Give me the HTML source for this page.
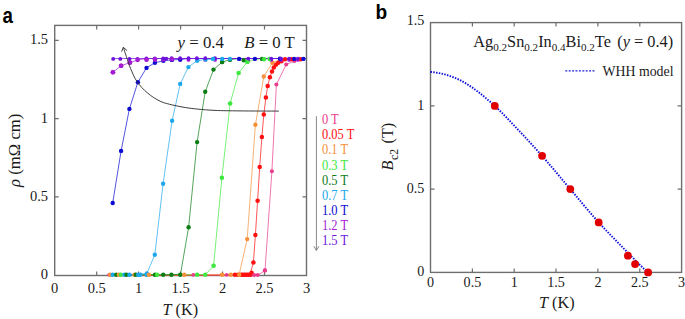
<!DOCTYPE html><html><head><meta charset="utf-8"><style>html,body{margin:0;padding:0;background:#fff;}svg{display:block;}</style></head><body>
<svg width="685" height="319" viewBox="0 0 685 319">
<rect width="685" height="319" fill="#fff"/>
<text transform="translate(2.6,23.0) scale(0.84,1)" font-family="'Liberation Sans', sans-serif" font-weight="bold" font-size="22.3">a</text>
<rect x="54.7" y="25.4" width="251.8" height="250.1" fill="none" stroke="#6e6e6e" stroke-width="1.4"/>
<path d="M96.7,275.5v-4M96.7,25.4v4M138.6,275.5v-4M138.6,25.4v4M180.6,275.5v-4M180.6,25.4v4M222.6,275.5v-4M222.6,25.4v4M264.5,275.5v-4M264.5,25.4v4M54.7,196.9h4M306.5,196.9h-4M54.7,118.7h4M306.5,118.7h-4M54.7,40.4h4M306.5,40.4h-4" stroke="#6e6e6e" stroke-width="1.2" fill="none"/>
<g font-family="'Liberation Serif', serif" font-size="14.5" fill="#1a1a1a" text-anchor="middle">
<text x="54.7" y="292.7">0</text>
<text x="96.7" y="292.7">0.5</text>
<text x="138.6" y="292.7">1</text>
<text x="180.6" y="292.7">1.5</text>
<text x="222.6" y="292.7">2</text>
<text x="264.5" y="292.7">2.5</text>
<text x="306.5" y="292.7">3</text>
</g>
<g font-family="'Liberation Serif', serif" font-size="14.5" fill="#1a1a1a" text-anchor="end">
<text x="48" y="279.1">0</text>
<text x="48" y="200.8">0.5</text>
<text x="48" y="122.6">1</text>
<text x="48" y="44.3">1.5</text>
</g>
<text x="162.5" y="314.5" font-family="'Liberation Serif', serif" font-size="16.2" fill="#1a1a1a"><tspan font-style="italic">T</tspan> (K)</text>
<text transform="translate(19.8,186.9) rotate(-90)" font-family="'Liberation Serif', serif" font-size="16.7" fill="#1a1a1a"><tspan font-style="italic">ρ</tspan> (mΩ cm)</text>
<text x="177.6" y="47.6" font-family="'Liberation Serif', serif" font-size="16.8" fill="#1a1a1a"><tspan font-style="italic">y</tspan> = 0.4</text>
<text x="244.2" y="47.6" font-family="'Liberation Serif', serif" font-size="16.8" fill="#1a1a1a"><tspan font-style="italic">B</tspan> = 0 T</text>
<polyline points="109.0,275.4 117.4,275.4 125.8,275.4 134.2,275.4 142.6,275.4 150.9,275.4 159.3,275.4 167.7,275.4 176.1,275.4 184.5,275.4 192.9,275.4 201.3,275.4 209.7,275.4 218.1,275.4 226.5,275.4 234.8,275.4 243.2,275.4 254.8,275.2 257.9,275.1 265.0,270.5 271.9,171.3 276.4,84.5 286.2,64.5 294.4,61.0 302.0,59.6" fill="none" stroke="#ea3a8c" stroke-width="0.7"/>
<polyline points="109.0,275.4 160.0,275.4 234.9,274.8 240.0,274.8 242.5,274.8 245.0,274.8 247.5,274.8 250.0,274.8 253.4,262.6 255.4,235.0 257.6,200.8 259.7,167.1 261.9,136.9 263.8,114.6 265.9,97.4 267.7,85.9 269.9,77.3 272.0,71.5 273.8,67.5 275.9,64.7 278.2,62.8 281.4,61.3 284.5,59.9 288.0,59.3 292.0,58.5 295.5,58.5 299.0,58.5 302.5,58.5 306.0,58.5" fill="none" stroke="#ff1010" stroke-width="0.7"/>
<polyline points="108.5,274.8 116.9,274.8 125.3,274.8 133.7,274.8 142.1,274.8 150.4,274.8 158.8,274.8 167.2,274.8 175.6,274.8 184.0,274.8 192.4,274.8 200.8,274.8 209.2,274.8 217.6,274.8 226.0,274.8 234.3,274.8 239.1,274.8 247.2,239.1 255.4,124.8 263.8,76.5 272.4,62.8 280.5,59.5 289.0,58.5 297.4,58.5 305.8,58.5" fill="none" stroke="#f5913a" stroke-width="0.7"/>
<polyline points="111.0,274.8 119.4,274.8 127.8,274.8 136.2,274.8 144.6,274.8 152.9,274.8 161.3,274.8 169.7,274.8 178.1,274.8 186.5,274.8 194.9,274.8 205.4,274.6 213.6,265.8 221.9,177.8 230.1,103.5 238.6,73.0 247.4,61.8 255.6,59.4 263.5,58.5 271.9,58.5 280.3,58.5 288.7,58.5 297.1,58.5 305.4,58.5" fill="none" stroke="#3ee83e" stroke-width="0.7"/>
<polyline points="110.5,274.8 118.9,274.8 127.3,274.8 135.7,274.8 144.1,274.8 152.4,274.8 160.8,274.8 169.2,274.8 180.5,274.2 188.6,227.3 197.1,142.1 205.2,91.8 213.5,69.6 222.1,62.1 230.0,59.7 238.6,58.5 247.0,58.5 255.4,58.5 263.8,58.5 272.2,58.5 280.5,58.5 288.9,58.5 297.3,58.5 305.7,58.5" fill="none" stroke="#0c7c14" stroke-width="0.7"/>
<polyline points="109.5,274.8 117.9,274.8 126.3,274.8 134.7,274.8 146.9,273.4 154.8,254.8 163.1,183.8 172.1,120.8 180.2,83.9 188.4,67.1 197.2,60.5 205.6,59.5 214.0,59.2 222.0,58.5 230.4,58.5 238.8,58.5 247.2,58.5 255.6,58.5 263.9,58.5 272.3,58.5 280.7,58.5 289.1,58.5 297.5,58.5 305.9,58.5" fill="none" stroke="#1ea8ec" stroke-width="0.7"/>
<polyline points="112.7,203.0 121.1,150.9 129.4,108.9 137.9,82.2 146.5,67.9 154.9,62.7 163.4,60.8 171.9,59.9 180.3,59.4 188.7,58.5 197.1,58.5 205.5,58.5 213.9,58.5 222.3,58.5 230.6,58.5 239.0,58.5 247.4,58.5 255.8,58.5 264.2,58.5 272.6,58.5 281.0,58.5 289.4,58.5 297.8,58.5" fill="none" stroke="#0a0ad0" stroke-width="0.7"/>
<polyline points="112.9,72.3 121.1,65.7 129.9,62.6 137.6,60.0 146.4,58.5 154.8,58.5 163.2,58.5 171.6,58.5 180.0,58.5 188.3,58.5 196.7,58.5 205.1,58.5 213.5,58.5 221.9,58.5 230.3,58.5 238.7,58.5 247.1,58.5 255.5,58.5 263.9,58.5 272.2,58.5 280.6,58.5 289.0,58.5 297.4,58.5 305.8,58.5" fill="none" stroke="#a41cd4" stroke-width="0.7"/>
<polyline points="113.2,58.5 121.6,58.5 130.0,58.5 138.4,58.5 146.8,58.5 155.1,58.5 163.5,58.5 171.9,58.5 180.3,58.5 188.7,58.5 197.1,58.5 205.5,58.5 213.9,58.5 222.3,58.5 230.7,58.5 239.0,58.5 247.4,58.5 255.8,58.5 264.2,58.5 272.6,58.5 281.0,58.5 289.4,58.5 297.8,58.5" fill="none" stroke="#6c12dc" stroke-width="0.7"/>
<g fill="#ea3a8c"><circle cx="265.0" cy="270.5" r="2.0"/><circle cx="271.9" cy="171.3" r="2.0"/><circle cx="276.4" cy="84.5" r="2.0"/><circle cx="286.2" cy="64.5" r="2.0"/><circle cx="294.4" cy="61.0" r="2.0"/></g>
<g fill="#ff1010"><circle cx="253.4" cy="262.6" r="2.25"/><circle cx="255.4" cy="235.0" r="2.25"/><circle cx="257.6" cy="200.8" r="2.25"/><circle cx="259.7" cy="167.1" r="2.25"/><circle cx="261.9" cy="136.9" r="2.25"/><circle cx="263.8" cy="114.6" r="2.25"/><circle cx="265.9" cy="97.4" r="2.25"/><circle cx="267.7" cy="85.9" r="2.25"/><circle cx="269.9" cy="77.3" r="2.25"/><circle cx="272.0" cy="71.5" r="2.25"/><circle cx="273.8" cy="67.5" r="2.25"/><circle cx="275.9" cy="64.7" r="2.25"/><circle cx="278.2" cy="62.8" r="2.25"/><circle cx="281.4" cy="61.3" r="2.25"/></g>
<g fill="#f5913a"><circle cx="247.2" cy="239.1" r="2.2"/><circle cx="255.4" cy="124.8" r="2.2"/><circle cx="263.8" cy="76.5" r="2.2"/><circle cx="272.4" cy="62.8" r="2.2"/></g>
<g fill="#3ee83e"><circle cx="213.6" cy="265.8" r="2.3"/><circle cx="221.9" cy="177.8" r="2.3"/><circle cx="230.1" cy="103.5" r="2.3"/><circle cx="238.6" cy="73.0" r="2.3"/><circle cx="247.4" cy="61.8" r="2.3"/></g>
<g fill="#0c7c14"><circle cx="188.6" cy="227.3" r="2.2"/><circle cx="197.1" cy="142.1" r="2.2"/><circle cx="205.2" cy="91.8" r="2.2"/><circle cx="213.5" cy="69.6" r="2.2"/><circle cx="222.1" cy="62.1" r="2.2"/></g>
<g fill="#1ea8ec"><circle cx="146.9" cy="273.4" r="2.2"/><circle cx="154.8" cy="254.8" r="2.2"/><circle cx="163.1" cy="183.8" r="2.2"/><circle cx="172.1" cy="120.8" r="2.2"/><circle cx="180.2" cy="83.9" r="2.2"/><circle cx="188.4" cy="67.1" r="2.2"/><circle cx="197.2" cy="60.5" r="2.2"/></g>
<g fill="#0a0ad0"><circle cx="112.7" cy="203.0" r="2.2"/><circle cx="121.1" cy="150.9" r="2.2"/><circle cx="129.4" cy="108.9" r="2.2"/><circle cx="137.9" cy="82.2" r="2.2"/><circle cx="146.5" cy="67.9" r="2.2"/><circle cx="154.9" cy="62.7" r="2.2"/><circle cx="163.4" cy="60.8" r="2.2"/></g>
<g fill="#a41cd4"><circle cx="112.9" cy="72.3" r="2.3"/><circle cx="121.1" cy="65.7" r="2.3"/><circle cx="129.9" cy="62.6" r="2.3"/></g>
<g>
<circle cx="109.1" cy="274.8" r="1.9" fill="#ea3a8c"/>
<circle cx="110.1" cy="274.8" r="2.2" fill="#f5913a"/>
<circle cx="112.7" cy="274.8" r="2.2" fill="#1ea8ec"/>
<circle cx="116.2" cy="274.8" r="2.2" fill="#0c7c14"/>
<circle cx="118.8" cy="274.8" r="2.2" fill="#f5913a"/>
<circle cx="120.8" cy="274.8" r="2.2" fill="#3ee83e"/>
<circle cx="124.4" cy="274.8" r="2.2" fill="#1ea8ec"/>
<circle cx="126.5" cy="274.8" r="2.2" fill="#0c7c14"/>
<circle cx="129.5" cy="274.8" r="2.2" fill="#1ea8ec"/>
<circle cx="134.6" cy="274.8" r="2.2" fill="#f5913a"/>
<circle cx="135.8" cy="274.8" r="2.2" fill="#0c7c14"/>
<circle cx="138.2" cy="274.8" r="2.2" fill="#1ea8ec"/>
<circle cx="140.4" cy="274.8" r="2.2" fill="#1ea8ec"/>
<circle cx="146.6" cy="274.8" r="2.2" fill="#1ea8ec"/>
<circle cx="148.9" cy="274.8" r="2.2" fill="#f5913a"/>
<circle cx="155.0" cy="274.8" r="2.2" fill="#0c7c14"/>
<circle cx="157.1" cy="274.8" r="2.2" fill="#3ee83e"/>
<circle cx="163.2" cy="274.8" r="2.2" fill="#0c7c14"/>
<circle cx="171.4" cy="274.8" r="2.2" fill="#0c7c14"/>
<circle cx="180.3" cy="274.8" r="2.2" fill="#0c7c14"/>
<circle cx="184.3" cy="274.8" r="2.2" fill="#f5913a"/>
<circle cx="193.3" cy="274.8" r="1.9" fill="#ea3a8c"/>
<circle cx="197.1" cy="274.8" r="2.2" fill="#3ee83e"/>
<circle cx="205.3" cy="274.8" r="2.2" fill="#3ee83e"/>
<circle cx="222.1" cy="274.8" r="2.2" fill="#f5913a"/>
<circle cx="226.7" cy="274.8" r="1.9" fill="#ea3a8c"/>
<circle cx="230.8" cy="274.8" r="2.2" fill="#f5913a"/>
<circle cx="234.9" cy="274.8" r="2.2" fill="#ff1010"/>
<circle cx="238.0" cy="274.8" r="2.2" fill="#ff1010"/>
<circle cx="241.0" cy="274.8" r="2.2" fill="#ff1010"/>
<circle cx="242.6" cy="274.8" r="2.2" fill="#ff1010"/>
<circle cx="244.2" cy="274.8" r="2.2" fill="#ff1010"/>
<circle cx="245.8" cy="274.8" r="2.2" fill="#ff1010"/>
<circle cx="247.4" cy="274.8" r="2.2" fill="#ff1010"/>
<circle cx="249.0" cy="274.8" r="2.2" fill="#ff1010"/>
<circle cx="250.6" cy="274.8" r="2.2" fill="#ff1010"/>
<circle cx="239.2" cy="274.8" r="2.2" fill="#f5913a"/>
<circle cx="251.6" cy="272.6" r="2.2" fill="#ff1010"/>
<circle cx="254.1" cy="275.0" r="2.0" fill="#ea3a8c"/>
<circle cx="257.7" cy="275.0" r="2.0" fill="#ea3a8c"/>
<circle cx="264.9" cy="270.4" r="2.1" fill="#ea3a8c"/>
</g>
<g>
<circle cx="146.4" cy="59.9" r="1.95" fill="#a41cd4"/>
<circle cx="154.8" cy="59.9" r="1.95" fill="#a41cd4"/>
<circle cx="163.2" cy="59.9" r="1.95" fill="#a41cd4"/>
<circle cx="171.6" cy="59.9" r="1.95" fill="#a41cd4"/>
<circle cx="180.1" cy="59.9" r="1.95" fill="#a41cd4"/>
<circle cx="188.5" cy="59.9" r="1.95" fill="#a41cd4"/>
<circle cx="196.9" cy="59.9" r="1.95" fill="#a41cd4"/>
<circle cx="205.3" cy="59.9" r="1.95" fill="#a41cd4"/>
<circle cx="215.0" cy="59.9" r="1.95" fill="#a41cd4"/>
<circle cx="248.3" cy="59.9" r="1.95" fill="#a41cd4"/>
<circle cx="271.3" cy="59.9" r="1.95" fill="#a41cd4"/>
<circle cx="281.0" cy="59.9" r="1.95" fill="#a41cd4"/>
<circle cx="289.1" cy="59.9" r="1.95" fill="#a41cd4"/>
<circle cx="297.8" cy="59.9" r="1.95" fill="#a41cd4"/>
<circle cx="285.0" cy="59.2" r="2.2" fill="#ff1010"/>
<circle cx="291.6" cy="59.2" r="2.2" fill="#ff1010"/>
<circle cx="300.5" cy="59.2" r="2.2" fill="#ff1010"/>
<circle cx="171.9" cy="59.9" r="2.2" fill="#0a0ad0"/>
<circle cx="180.3" cy="59.5" r="2.2" fill="#0a0ad0"/>
<circle cx="197.2" cy="60.4" r="2.2" fill="#1ea8ec"/>
<circle cx="205.6" cy="59.6" r="2.2" fill="#1ea8ec"/>
<circle cx="243.7" cy="60.2" r="2.2" fill="#0c7c14"/>
<circle cx="247.4" cy="61.8" r="2.2" fill="#3ee83e"/>
<circle cx="222.1" cy="62.1" r="2.2" fill="#0c7c14"/>
<circle cx="230.0" cy="59.9" r="2.2" fill="#0c7c14"/>
<circle cx="113.2" cy="58.9" r="1.95" fill="#6c12dc"/>
<circle cx="120.3" cy="58.9" r="1.95" fill="#6c12dc"/>
<circle cx="129.5" cy="58.9" r="1.95" fill="#6c12dc"/>
<circle cx="137.5" cy="58.9" r="1.95" fill="#6c12dc"/>
<circle cx="146.4" cy="58.4" r="1.95" fill="#6c12dc"/>
<circle cx="154.8" cy="58.4" r="1.95" fill="#6c12dc"/>
<circle cx="163.2" cy="58.4" r="1.95" fill="#6c12dc"/>
<circle cx="166.3" cy="58.6" r="1.95" fill="#6c12dc"/>
<circle cx="171.6" cy="58.3" r="1.95" fill="#6c12dc"/>
<circle cx="180.1" cy="58.3" r="1.95" fill="#6c12dc"/>
<circle cx="188.5" cy="58.3" r="1.95" fill="#6c12dc"/>
<circle cx="196.9" cy="58.3" r="1.95" fill="#6c12dc"/>
<circle cx="205.3" cy="58.3" r="1.95" fill="#6c12dc"/>
<circle cx="215.0" cy="58.3" r="1.95" fill="#6c12dc"/>
<circle cx="213.0" cy="58.9" r="2.2" fill="#1ea8ec"/>
<circle cx="222.2" cy="58.9" r="2.2" fill="#1ea8ec"/>
<circle cx="229.9" cy="58.9" r="2.2" fill="#1ea8ec"/>
<circle cx="239.1" cy="58.9" r="2.2" fill="#0a0ad0"/>
<circle cx="248.3" cy="58.6" r="1.95" fill="#6c12dc"/>
<circle cx="254.9" cy="58.9" r="2.2" fill="#0a0ad0"/>
<circle cx="262.1" cy="58.9" r="2.2" fill="#0c7c14"/>
<circle cx="264.1" cy="59.2" r="2.2" fill="#3ee83e"/>
<circle cx="269.5" cy="59.0" r="2.2" fill="#3ee83e"/>
<circle cx="271.3" cy="58.6" r="1.95" fill="#6c12dc"/>
<circle cx="279.9" cy="58.8" r="2.2" fill="#0a0ad0"/>
<circle cx="281.0" cy="58.6" r="1.95" fill="#6c12dc"/>
<circle cx="289.1" cy="58.6" r="1.95" fill="#6c12dc"/>
<circle cx="294.2" cy="58.9" r="2.2" fill="#0a0ad0"/>
<circle cx="297.8" cy="58.6" r="1.95" fill="#6c12dc"/>
<circle cx="303.4" cy="58.9" r="2.2" fill="#0a0ad0"/>
</g>
<g fill="#a41cd4"><circle cx="112.9" cy="72.3" r="2.3"/><circle cx="121.1" cy="65.7" r="2.3"/><circle cx="129.9" cy="62.6" r="2.3"/><circle cx="137.6" cy="60.0" r="2.3"/><circle cx="146.6" cy="59.6" r="2.3"/><circle cx="155.0" cy="59.4" r="2.3"/><circle cx="171.9" cy="59.2" r="2.3"/></g>
<path d="M123.30,47.30 C123.98,49.35 126.20,56.10 127.40,59.60 C128.60,63.10 128.90,64.63 130.50,68.30 C132.10,71.97 134.17,77.48 137.00,81.60 C139.83,85.72 143.65,89.73 147.50,93.00 C151.35,96.27 155.92,99.20 160.10,101.20 C164.28,103.20 168.42,103.95 172.60,105.00 C176.78,106.05 181.02,106.82 185.20,107.50 C189.38,108.18 192.73,108.62 197.70,109.10 C202.67,109.58 207.95,110.10 215.00,110.40 C222.05,110.70 229.37,110.78 240.00,110.90 C250.63,111.02 272.33,111.07 278.80,111.10" fill="none" stroke="#333" stroke-width="0.95"/>
<path d="M121.6,51.6 L123.3,47.3 L127.1,50.6" fill="none" stroke="#333" stroke-width="0.95"/>
<path d="M316.4,116.2 V250" stroke="#888" stroke-width="1"/>
<path d="M313.9,246.2 L316.4,250.6 L318.9,246.2" stroke="#888" stroke-width="1" fill="none"/>
<text transform="translate(322,124.2) scale(0.89,1)" font-family="'Liberation Serif', serif" font-size="14" fill="#ea3a8c">0 T</text>
<text transform="translate(322,139.3) scale(0.89,1)" font-family="'Liberation Serif', serif" font-size="14" fill="#ff1010">0.05 T</text>
<text transform="translate(322,154.4) scale(0.89,1)" font-family="'Liberation Serif', serif" font-size="14" fill="#f5913a">0.1 T</text>
<text transform="translate(322,169.5) scale(0.89,1)" font-family="'Liberation Serif', serif" font-size="14" fill="#3ee83e">0.3 T</text>
<text transform="translate(322,184.6) scale(0.89,1)" font-family="'Liberation Serif', serif" font-size="14" fill="#0c7c14">0.5 T</text>
<text transform="translate(322,199.7) scale(0.89,1)" font-family="'Liberation Serif', serif" font-size="14" fill="#1ea8ec">0.7 T</text>
<text transform="translate(322,214.8) scale(0.89,1)" font-family="'Liberation Serif', serif" font-size="14" fill="#0a0ad0">1.0 T</text>
<text transform="translate(322,229.9) scale(0.89,1)" font-family="'Liberation Serif', serif" font-size="14" fill="#a41cd4">1.2 T</text>
<text transform="translate(322,245.0) scale(0.89,1)" font-family="'Liberation Serif', serif" font-size="14" fill="#6c12dc">1.5 T</text>
<text transform="translate(375.4,19.0) scale(0.93,1)" font-family="'Liberation Sans', sans-serif" font-weight="bold" font-size="20.6">b</text>
<rect x="430.5" y="22.6" width="251.10000000000002" height="249.79999999999998" fill="none" stroke="#6e6e6e" stroke-width="1.4"/>
<path d="M472.4,272.4v-4M472.4,22.6v4M514.2,272.4v-4M514.2,22.6v4M556.0,272.4v-4M556.0,22.6v4M597.9,272.4v-4M597.9,22.6v4M639.8,272.4v-4M639.8,22.6v4M430.5,189.1h4M681.6,189.1h-4M430.5,105.9h4M681.6,105.9h-4" stroke="#6e6e6e" stroke-width="1.2" fill="none"/>
<g font-family="'Liberation Serif', serif" font-size="14.1" fill="#1a1a1a" text-anchor="middle">
<text x="430.5" y="287.0">0</text>
<text x="472.4" y="287.0">0.5</text>
<text x="514.2" y="287.0">1</text>
<text x="556.0" y="287.0">1.5</text>
<text x="597.9" y="287.0">2</text>
<text x="639.8" y="287.0">2.5</text>
<text x="681.6" y="287.0">3</text>
</g>
<g font-family="'Liberation Serif', serif" font-size="14.1" fill="#1a1a1a" text-anchor="end">
<text x="424.3" y="276.4">0</text>
<text x="424.3" y="193.1">0.5</text>
<text x="424.3" y="109.9">1</text>
<text x="424.3" y="24.6">1.5</text>
</g>
<text x="539" y="307.9" font-family="'Liberation Serif', serif" font-size="16.2" fill="#1a1a1a"><tspan font-style="italic">T</tspan> (K)</text>
<text transform="translate(393,170.5) rotate(-90)" font-family="'Liberation Serif', serif" font-size="16.2" fill="#1a1a1a"><tspan font-style="italic">B</tspan><tspan font-size="11.6" dy="5.2" dx="0.6">c2</tspan><tspan dy="-5.2" dx="1.6"> (T)</tspan></text>
<text x="473.3" y="47.3" font-family="'Liberation Serif', serif" font-size="16.3" fill="#1a1a1a">Ag<tspan font-size="11.1" dy="3.5">0.2</tspan><tspan dy="-3.5">Sn</tspan><tspan font-size="11.1" dy="3.5">0.2</tspan><tspan dy="-3.5">In</tspan><tspan font-size="11.1" dy="3.5">0.4</tspan><tspan dy="-3.5">Bi</tspan><tspan font-size="11.1" dy="3.5">0.2</tspan><tspan dy="-3.5">Te</tspan><tspan dx="2.4"> (</tspan><tspan font-style="italic">y</tspan> = 0.4)</text>
<path d="M565.3,70.9 H595" stroke="#2222dd" stroke-width="1.2" stroke-dasharray="2 1.4"/>
<text x="602.6" y="76.1" font-family="'Liberation Serif', serif" font-size="13.8" fill="#1a1a1a">WHH model</text>
<path d="M430.50,71.93 L431.59,72.03 L432.68,72.15 L433.77,72.28 L434.86,72.44 L435.95,72.60 L437.04,72.78 L438.13,72.98 L439.22,73.18 L440.32,73.39 L441.41,73.61 L442.50,73.84 L443.59,74.09 L444.68,74.37 L445.77,74.66 L446.86,74.98 L447.95,75.31 L449.04,75.67 L450.13,76.04 L451.22,76.42 L452.31,76.83 L453.40,77.24 L454.49,77.67 L455.58,78.11 L456.67,78.56 L457.77,79.04 L458.86,79.55 L459.95,80.09 L461.04,80.65 L462.13,81.25 L463.22,81.86 L464.31,82.50 L465.40,83.15 L466.49,83.82 L467.58,84.49 L468.67,85.18 L469.76,85.88 L470.85,86.59 L471.94,87.32 L473.03,88.07 L474.12,88.85 L475.22,89.65 L476.31,90.47 L477.40,91.31 L478.49,92.16 L479.58,93.02 L480.67,93.89 L481.76,94.77 L482.85,95.65 L483.94,96.53 L485.03,97.42 L486.12,98.32 L487.21,99.23 L488.30,100.15 L489.39,101.08 L490.48,102.03 L491.57,102.99 L492.67,103.97 L493.76,104.96 L494.85,105.96 L495.94,106.98 L497.03,108.02 L498.12,109.07 L499.21,110.13 L500.30,111.21 L501.39,112.29 L502.48,113.39 L503.57,114.50 L504.66,115.61 L505.75,116.74 L506.84,117.87 L507.93,119.00 L509.02,120.15 L510.12,121.29 L511.21,122.44 L512.30,123.60 L513.39,124.75 L514.48,125.91 L515.57,127.06 L516.66,128.22 L517.75,129.37 L518.84,130.52 L519.93,131.68 L521.02,132.83 L522.11,133.99 L523.20,135.15 L524.29,136.32 L525.38,137.49 L526.47,138.66 L527.57,139.83 L528.66,141.01 L529.75,142.20 L530.84,143.38 L531.93,144.57 L533.02,145.77 L534.11,146.96 L535.20,148.17 L536.29,149.37 L537.38,150.59 L538.47,151.80 L539.56,153.02 L540.65,154.25 L541.74,155.48 L542.83,156.71 L543.92,157.96 L545.02,159.21 L546.11,160.47 L547.20,161.74 L548.29,163.01 L549.38,164.29 L550.47,165.57 L551.56,166.86 L552.65,168.15 L553.74,169.44 L554.83,170.74 L555.92,172.04 L557.01,173.35 L558.10,174.65 L559.19,175.96 L560.28,177.26 L561.37,178.57 L562.47,179.87 L563.56,181.17 L564.65,182.48 L565.74,183.78 L566.83,185.07 L567.92,186.36 L569.01,187.65 L570.10,188.94 L571.19,190.22 L572.28,191.51 L573.37,192.80 L574.46,194.10 L575.55,195.39 L576.64,196.69 L577.73,197.99 L578.82,199.30 L579.92,200.60 L581.01,201.90 L582.10,203.20 L583.19,204.50 L584.28,205.79 L585.37,207.08 L586.46,208.37 L587.55,209.66 L588.64,210.94 L589.73,212.21 L590.82,213.48 L591.91,214.74 L593.00,216.00 L594.09,217.24 L595.18,218.48 L596.27,219.71 L597.37,220.93 L598.46,222.14 L599.55,223.34 L600.64,224.53 L601.73,225.71 L602.82,226.88 L603.91,228.05 L605.00,229.20 L606.09,230.36 L607.18,231.50 L608.27,232.64 L609.36,233.77 L610.45,234.90 L611.54,236.03 L612.63,237.15 L613.72,238.27 L614.82,239.39 L615.91,240.51 L617.00,241.62 L618.09,242.73 L619.18,243.84 L620.27,244.96 L621.36,246.07 L622.45,247.18 L623.54,248.30 L624.63,249.41 L625.72,250.53 L626.81,251.64 L627.90,252.75 L628.99,253.85 L630.08,254.96 L631.17,256.06 L632.27,257.17 L633.36,258.27 L634.45,259.36 L635.54,260.46 L636.63,261.56 L637.72,262.65 L638.81,263.74 L639.90,264.83 L640.99,265.92 L642.08,267.00 L643.17,268.08 L644.26,269.17 L645.35,270.25 L646.44,271.32 L647.53,272.40" fill="none" stroke="#1010d8" stroke-width="1.9" stroke-dasharray="1.5 1.3"/>
<g fill="#e00000"><circle cx="494.8" cy="105.9" r="3.9"/><circle cx="542.1" cy="155.8" r="3.9"/><circle cx="570.3" cy="189.1" r="3.9"/><circle cx="598.7" cy="222.4" r="3.9"/><circle cx="627.9" cy="255.7" r="3.9"/><circle cx="635.1" cy="264.1" r="3.9"/><circle cx="648.1" cy="272.4" r="3.9"/></g>
</svg></body></html>
